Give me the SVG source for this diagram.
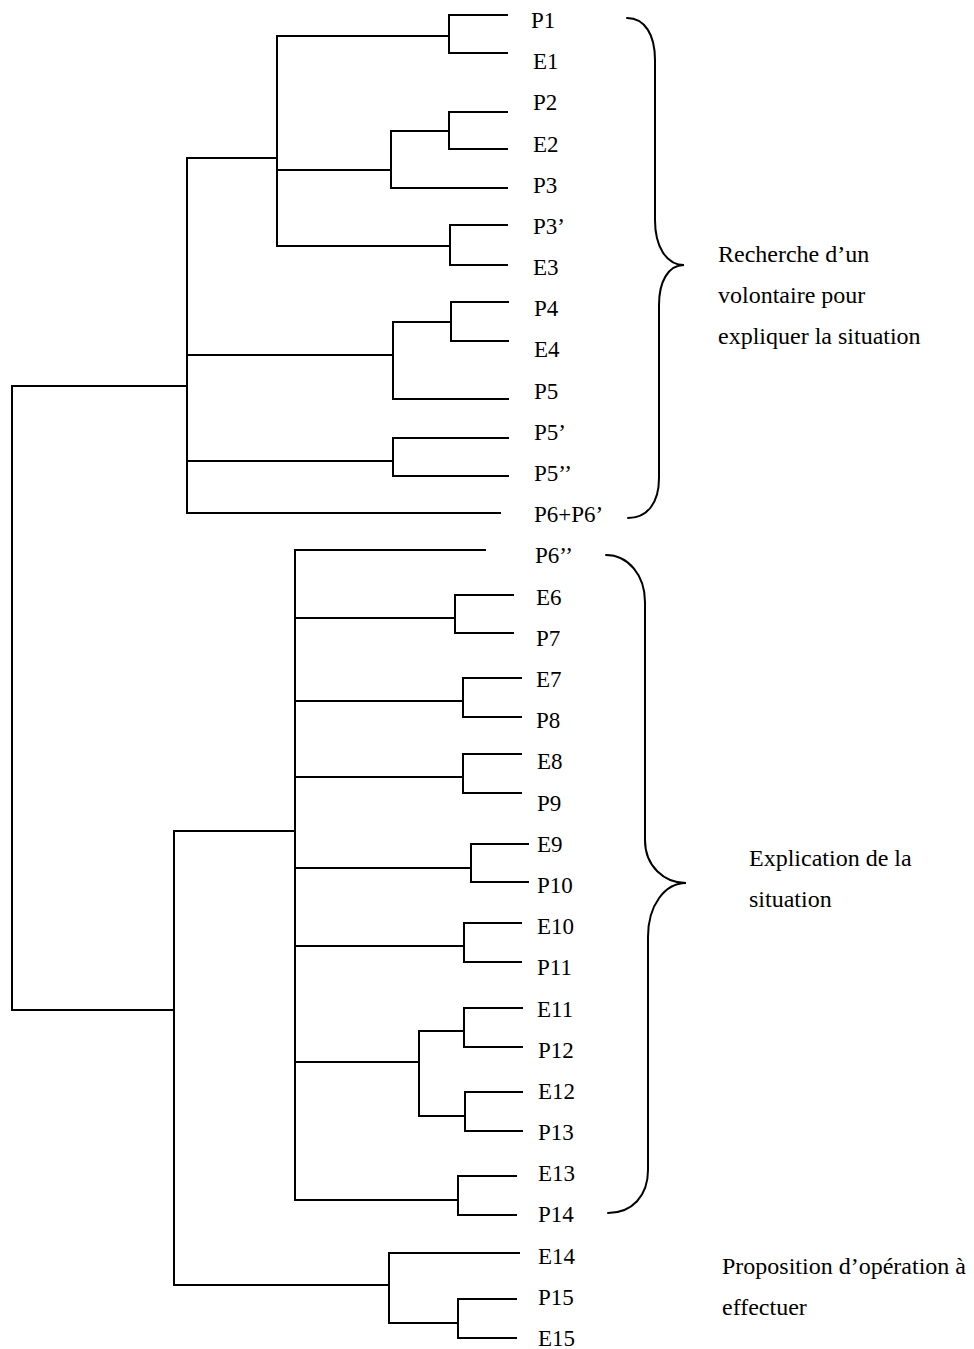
<svg xmlns="http://www.w3.org/2000/svg" width="974" height="1349" viewBox="0 0 974 1349">
<style>
.bg{fill:#fff}
.e{fill:none;stroke:#000;stroke-width:2;stroke-linecap:square;stroke-linejoin:miter}
.br{fill:none;stroke:#000;stroke-width:2;stroke-linecap:round}
.lf{font-family:"Liberation Serif","Times New Roman",serif;font-size:23px;fill:#000}
.gl{font-family:"Liberation Serif","Times New Roman",serif;font-size:24px;fill:#000}
</style>
<rect class="bg" x="0" y="0" width="974" height="1349"/>
<g id="connectors">
<!-- top cluster -->
<path class="e" d="M507,15 H449 V53 H507"/>
<path class="e" d="M449,36 H277"/>
<path class="e" d="M507,112 H449 V149 H507"/>
<path class="e" d="M449,131 H391 V188 H507"/>
<path class="e" d="M391,170 H277"/>
<path class="e" d="M507,225 H450 V265 H507"/>
<path class="e" d="M450,246 H277"/>
<path class="e" d="M277,36 V246"/>
<path class="e" d="M277,158 H187"/>
<path class="e" d="M508,302 H451 V341 H508"/>
<path class="e" d="M451,322 H393 V399 H508"/>
<path class="e" d="M393,355 H187"/>
<path class="e" d="M508,438 H393 V476 H508"/>
<path class="e" d="M393,461 H187"/>
<path class="e" d="M500,513 H187 V158"/>
<path class="e" d="M187,386 H12 V1010 H174"/>
<!-- middle cluster -->
<path class="e" d="M485,550 H295 V1200"/>
<path class="e" d="M513,595 H455 V633 H513"/>
<path class="e" d="M455,618 H295"/>
<path class="e" d="M521,678 H463 V717 H521"/>
<path class="e" d="M463,701 H295"/>
<path class="e" d="M521,754 H463 V793 H521"/>
<path class="e" d="M463,777 H295"/>
<path class="e" d="M528,844 H471 V882 H528"/>
<path class="e" d="M471,868 H295"/>
<path class="e" d="M521,923 H464 V962 H521"/>
<path class="e" d="M464,946 H295"/>
<path class="e" d="M522,1008 H464 V1047 H522"/>
<path class="e" d="M464,1031 H419 V1116 H465"/>
<path class="e" d="M522,1092 H465 V1131 H522"/>
<path class="e" d="M419,1062 H295"/>
<path class="e" d="M516,1176 H458 V1215 H516"/>
<path class="e" d="M458,1200 H295"/>
<path class="e" d="M295,831 H174 V1285 H389"/>
<!-- bottom cluster -->
<path class="e" d="M519,1253 H389 V1323 H458"/>
<path class="e" d="M516,1299 H458 V1338 H516"/>
</g>
<g id="brace-1">
<path class="br" d="M627,18 C645,18 655,35 655,60 V220 C655,246 666,265 684,265 C668,265 659,282 659,305 V478 C659,502 648,518 628,518"/>
</g>
<g id="brace-2">
<path class="br" d="M606,555 C628,555 645,575 645,602 V840 C645,866 664,883 686,883 C665,883 648,905 648,937 V1170 C648,1196 632,1213 608,1213"/>
</g>
<g id="n-P1"><text class="lf" x="531" y="28">P1</text></g>
<g id="n-E1"><text class="lf" x="533" y="69">E1</text></g>
<g id="n-P2"><text class="lf" x="533" y="110">P2</text></g>
<g id="n-E2"><text class="lf" x="533" y="152">E2</text></g>
<g id="n-P3"><text class="lf" x="533" y="193">P3</text></g>
<g id="n-P3p"><text class="lf" x="533" y="234">P3’</text></g>
<g id="n-E3"><text class="lf" x="533" y="275">E3</text></g>
<g id="n-P4"><text class="lf" x="534" y="316">P4</text></g>
<g id="n-E4"><text class="lf" x="534" y="357">E4</text></g>
<g id="n-P5"><text class="lf" x="534" y="399">P5</text></g>
<g id="n-P5p"><text class="lf" x="534" y="440">P5’</text></g>
<g id="n-P5pp"><text class="lf" x="534" y="481">P5’’</text></g>
<g id="n-P6P6p"><text class="lf" x="534" y="522">P6+P6’</text></g>
<g id="n-P6pp"><text class="lf" x="535" y="563">P6’’</text></g>
<g id="n-E6"><text class="lf" x="536" y="605">E6</text></g>
<g id="n-P7"><text class="lf" x="536" y="646">P7</text></g>
<g id="n-E7"><text class="lf" x="536" y="687">E7</text></g>
<g id="n-P8"><text class="lf" x="536" y="728">P8</text></g>
<g id="n-E8"><text class="lf" x="537" y="769">E8</text></g>
<g id="n-P9"><text class="lf" x="537" y="811">P9</text></g>
<g id="n-E9"><text class="lf" x="537" y="852">E9</text></g>
<g id="n-P10"><text class="lf" x="537" y="893">P10</text></g>
<g id="n-E10"><text class="lf" x="537" y="934">E10</text></g>
<g id="n-P11"><text class="lf" x="537" y="975">P11</text></g>
<g id="n-E11"><text class="lf" x="537" y="1017">E11</text></g>
<g id="n-P12"><text class="lf" x="538" y="1058">P12</text></g>
<g id="n-E12"><text class="lf" x="538" y="1099">E12</text></g>
<g id="n-P13"><text class="lf" x="538" y="1140">P13</text></g>
<g id="n-E13"><text class="lf" x="538" y="1181">E13</text></g>
<g id="n-P14"><text class="lf" x="538" y="1222">P14</text></g>
<g id="n-E14"><text class="lf" x="538" y="1264">E14</text></g>
<g id="n-P15"><text class="lf" x="538" y="1305">P15</text></g>
<g id="n-E15"><text class="lf" x="538" y="1346">E15</text></g>
<g id="label-recherche">
<text class="gl" x="718" y="262">Recherche d’un</text>
<text class="gl" x="718" y="303">volontaire pour</text>
<text class="gl" x="718" y="344">expliquer la situation</text>
</g>
<g id="label-explication">
<text class="gl" x="749" y="866">Explication de la</text>
<text class="gl" x="749" y="907">situation</text>
</g>
<g id="label-proposition">
<text class="gl" x="722" y="1274">Proposition d’opération à</text>
<text class="gl" x="722" y="1315">effectuer</text>
</g>
</svg>
